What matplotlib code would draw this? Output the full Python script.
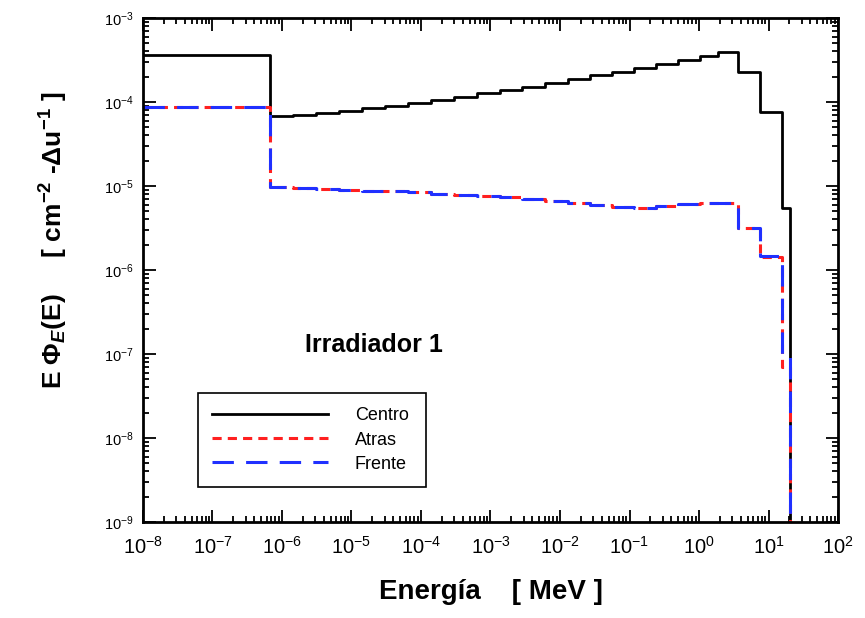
import matplotlib
matplotlib.use('Agg')
import matplotlib.pyplot as plt
import numpy as np
from matplotlib.ticker import LogLocator, NullFormatter

plt.rcParams['font.family'] = ['Liberation Sans', 'DejaVu Sans']
plt.rcParams['mathtext.fontset'] = 'custom'
plt.rcParams['mathtext.rm'] = 'Liberation Sans:bold'
plt.rcParams['mathtext.bf'] = 'Liberation Sans:bold'
plt.rcParams['mathtext.it'] = 'Liberation Sans:bold:italic'
plt.rcParams['mathtext.sf'] = 'Liberation Sans:bold'
plt.rcParams['mathtext.default'] = 'rm'

########## data ##########

# bin edges in MeV (lethargy bins, ~3 per decade above the thermal group)
edges = [1e-8, 6.8e-7, 1.44e-6, 3.08e-6, 6.6e-6, 1.42e-5, 3.03e-5, 6.5e-5,
         1.39e-4, 2.99e-4, 6.4e-4, 1.37e-3, 2.84e-3, 6.1e-3, 1.30e-2,
         2.70e-2, 5.6e-2, 0.116, 0.24, 0.50, 1.03, 1.86, 3.6, 7.6, 15.5, 20.4]

centro = [3.6e-4, 6.8e-5, 7.0e-5, 7.4e-5, 7.8e-5, 8.5e-5, 8.95e-5, 9.7e-5,
          1.06e-4, 1.15e-4, 1.28e-4, 1.39e-4, 1.51e-4, 1.68e-4, 1.88e-4,
          2.10e-4, 2.28e-4, 2.54e-4, 2.83e-4, 3.16e-4, 3.53e-4, 3.94e-4,
          2.3e-4, 7.5e-5, 5.5e-6]

atras = [8.7e-5, 9.7e-6, 9.5e-6, 9.3e-6, 9.0e-6, 8.8e-6, 8.6e-6, 8.4e-6,
         8.1e-6, 7.9e-6, 7.6e-6, 7.4e-6, 7.0e-6, 6.6e-6, 6.3e-6,
         5.9e-6, 5.6e-6, 5.5e-6, 5.8e-6, 6.1e-6, 6.3e-6, 6.3e-6,
         3.16e-6, 1.43e-6, 7.0e-8]

frente = [8.8e-5, 9.8e-6, 9.5e-6, 9.3e-6, 9.0e-6, 8.8e-6, 8.6e-6, 8.4e-6,
          8.1e-6, 7.9e-6, 7.6e-6, 7.4e-6, 7.0e-6, 6.6e-6, 6.3e-6,
          5.9e-6, 5.6e-6, 5.5e-6, 5.8e-6, 6.1e-6, 6.3e-6, 6.3e-6,
          3.2e-6, 1.45e-6, 9.5e-8]

FLOOR = 1e-12  # value past the last edge, so the curves drop off the bottom

########## plot ##########

fig = plt.figure(figsize=(8.65, 6.18), dpi=100)
ax = fig.add_axes([0.1653, 0.1553, 0.8035, 0.8156])

ax.step(edges, centro + [FLOOR], where='post', color='black', lw=2.0,
        label='Centro')
ax.step(edges, atras + [FLOOR], where='post', color='#ff2020', lw=2.2,
        dashes=(3, 2), label='Atras')
ax.step(edges, frente + [FLOOR], where='post', color='#2030ff', lw=2.2,
        dashes=(7, 4), label='Frente')

ax.set_xscale('log')
ax.set_yscale('log')
ax.set_xlim(1e-8, 1e2)
ax.set_ylim(1e-9, 1e-3)

ax.xaxis.set_major_locator(LogLocator(base=10, numticks=20))
ax.xaxis.set_minor_locator(LogLocator(base=10, subs=np.arange(2, 10), numticks=20))
ax.yaxis.set_major_locator(LogLocator(base=10, numticks=20))
ax.yaxis.set_minor_locator(LogLocator(base=10, subs=np.arange(2, 10), numticks=20))
ax.xaxis.set_minor_formatter(NullFormatter())
ax.yaxis.set_minor_formatter(NullFormatter())

ax.tick_params(which='both', direction='in', top=True, right=True, width=1.3)
ax.tick_params(which='major', length=9)
ax.tick_params(which='minor', length=4)
ax.tick_params(axis='x', labelsize=14.5, pad=10)
ax.tick_params(axis='y', labelsize=10.5, pad=7)
for s in ax.spines.values():
    s.set_linewidth(2)

ax.set_xlabel('Energía    [ MeV ]', fontsize=20, fontweight='bold', labelpad=15)
ax.set_ylabel(r'E $\Phi_{\mathit{E}}$(E)     [ cm$^{-2}$ -$\Delta$u$^{-1}$ ]',
              fontsize=19, fontweight='bold', labelpad=24, y=0.56)

ax.text(0.233, 0.337, 'Irradiador 1', transform=ax.transAxes, fontsize=18,
        fontweight='bold')

leg = ax.legend(loc='lower left', bbox_to_anchor=(0.079, 0.069, 0.328, 0.197),
                mode='expand', borderaxespad=0, fontsize=13, handlelength=6.4,
                handletextpad=1.5, borderpad=0.8, labelspacing=0.4,
                fancybox=False, edgecolor='black', framealpha=1)
leg.get_frame().set_linewidth(1.2)

fig.savefig('out.png', dpi=100)
